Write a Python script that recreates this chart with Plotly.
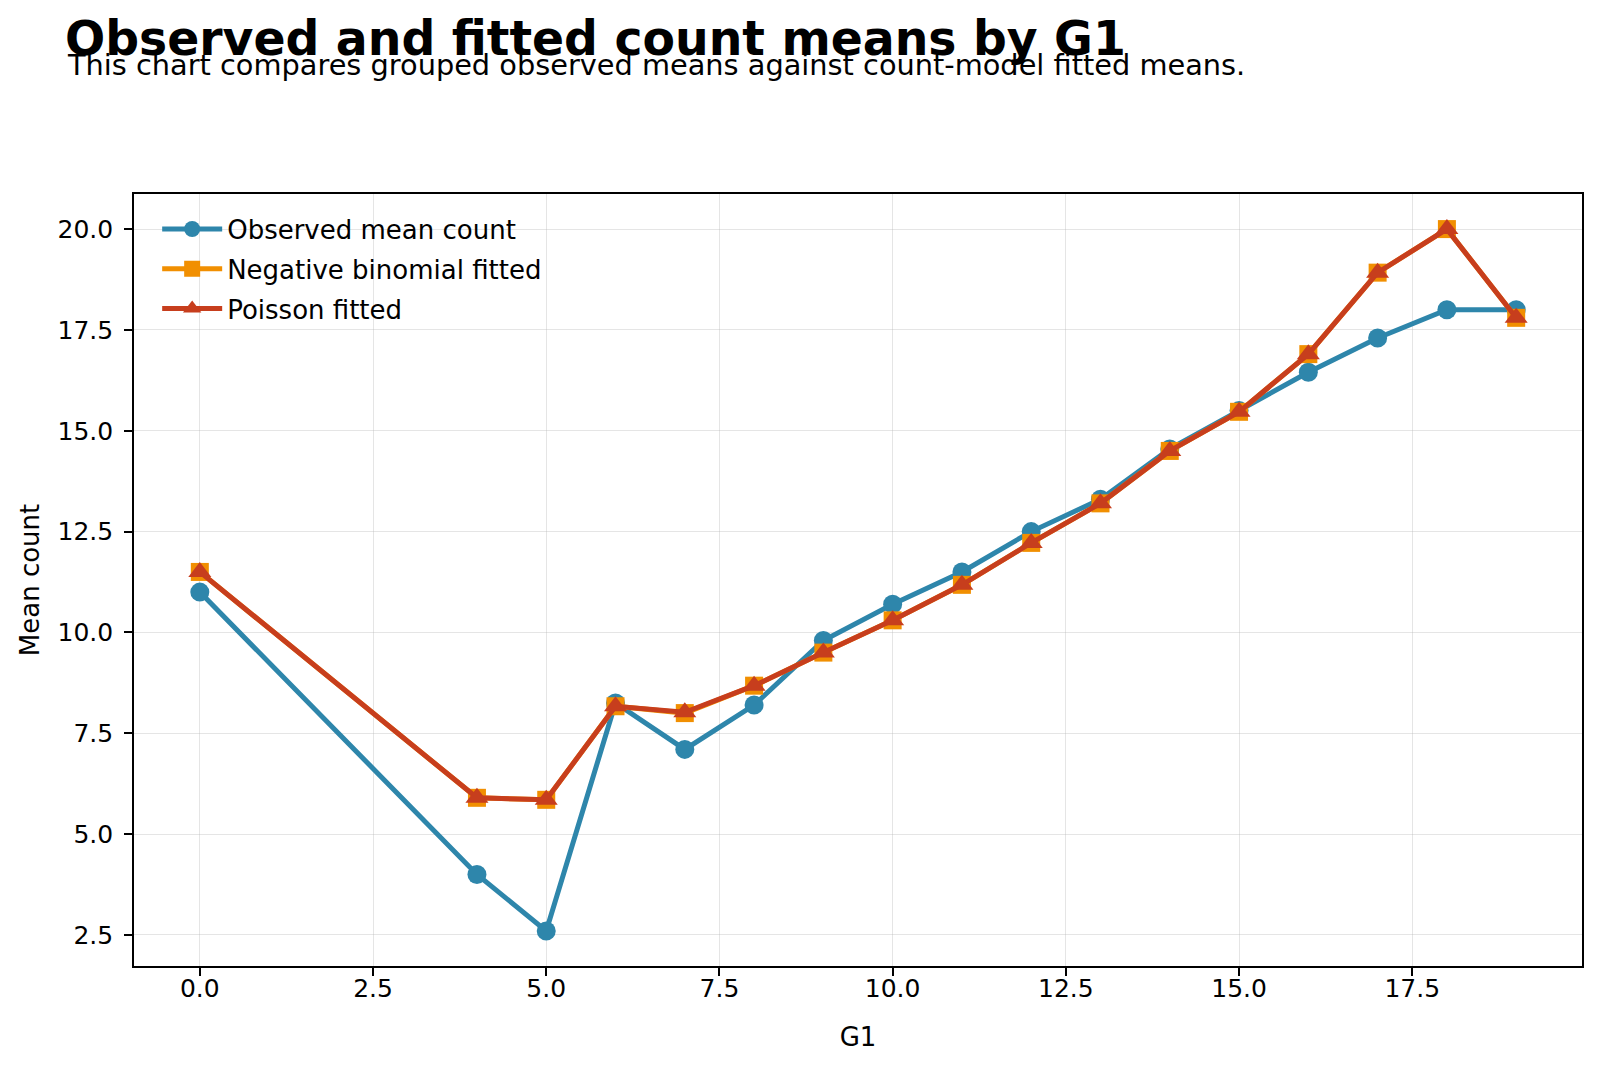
import plotly.graph_objects as go

g1 = [0, 4, 5, 6, 7, 8, 9, 10, 11, 12, 13, 14, 15, 16, 17, 18, 19]
observed_mean = [11.0, 4.0, 2.6, 8.25, 7.1, 8.2, 9.8, 10.7, 11.5, 12.5, 13.3, 14.55, 15.5, 16.45, 17.3, 18.0, 18.0]
negbin_fitted = [11.5, 5.9, 5.85, 8.17, 8.0, 8.68, 9.5, 10.3, 11.18, 12.22, 13.2, 14.5, 15.47, 16.9, 18.92, 20.0, 17.8]
poisson_fitted = [11.5, 5.9, 5.85, 8.17, 8.02, 8.68, 9.5, 10.3, 11.18, 12.22, 13.2, 14.5, 15.47, 16.9, 18.92, 20.0, 17.8]

x_ticks = [0.0, 2.5, 5.0, 7.5, 10.0, 12.5, 15.0, 17.5]
y_ticks = [2.5, 5.0, 7.5, 10.0, 12.5, 15.0, 17.5, 20.0]

FONT = "DejaVu Sans"

fig = go.Figure()
fig.add_trace(go.Scatter(
    x=g1, y=observed_mean, mode="lines+markers", name="Observed mean count",
    line=dict(color="#2E86AB", width=5),
    marker=dict(symbol="circle", size=19, color="#2E86AB"),
    legendgroup="a",
))
fig.add_trace(go.Scatter(
    x=g1, y=negbin_fitted, mode="lines+markers", name="Negative binomial fitted",
    line=dict(color="#F18F01", width=5),
    marker=dict(symbol="square", size=18, color="#F18F01"),
    legendgroup="b",
))
fig.add_trace(go.Scatter(
    x=g1, y=poisson_fitted, mode="lines+markers", name="Poisson fitted",
    line=dict(color="#C73E1D", width=5),
    marker=dict(symbol="triangle-up", size=20, color="#C73E1D"),
    legendgroup="c",
))

axis_common = dict(
    showline=True, linecolor="black", linewidth=1.6, mirror=True,
    ticks="outside", ticklen=8, tickwidth=1.6, tickcolor="black",
    showgrid=True, gridcolor="rgba(180,180,180,0.35)", gridwidth=1.4,
    zeroline=False, tickfont=dict(family=FONT, size=25, color="black"),
)

fig.update_layout(
    width=1600, height=1068,
    margin=dict(l=134, r=18, t=194, b=102),
    paper_bgcolor="white", plot_bgcolor="white",
    font=dict(family=FONT, color="black"),
    showlegend=True,
    legend=dict(
        x=0.016, y=0.985, xanchor="left", yanchor="top",
        bgcolor="rgba(255,255,255,0)", borderwidth=0,
        font=dict(family=FONT, size=26, color="black"),
        tracegroupgap=3, itemwidth=60,
    ),
    xaxis=dict(
        range=[-0.95, 19.95], tickvals=x_ticks,
        ticktext=[f"{v:.1f}" for v in x_ticks],
        title=dict(text="G1", font=dict(family=FONT, size=26), standoff=26),
        ticklabelstandoff=-9,
        **axis_common,
    ),
    yaxis=dict(
        range=[1.73, 20.87], tickvals=y_ticks,
        ticktext=[f"{v:.1f}" for v in y_ticks],
        title=dict(text="Mean count", font=dict(family=FONT, size=26), standoff=10),
        ticklabelstandoff=6,
        **axis_common,
    ),
    annotations=[
        dict(text="<b>Observed and fitted count means by G1</b>", xref="paper", yref="paper",
             x=(63 - 134) / 1448, y=(966 - 39) / 772, xanchor="left", yanchor="middle",
             showarrow=False, font=dict(family=FONT, size=47.3, color="black")),
        dict(text="This chart compares grouped observed means against count-model fitted means.",
             xref="paper", yref="paper",
             x=(65 - 134) / 1448, y=(966 - 65) / 772, xanchor="left", yanchor="middle",
             showarrow=False, font=dict(family=FONT, size=28.8, color="black")),
    ],
)

fig.write_html("out.html")
